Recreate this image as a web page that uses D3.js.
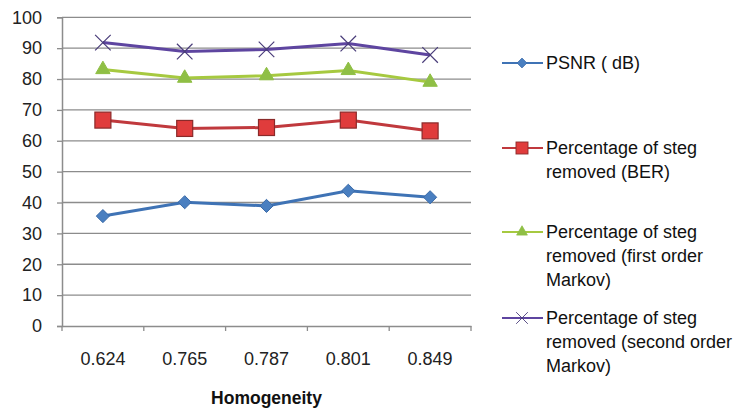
<!DOCTYPE html>
<html><head><meta charset="utf-8">
<script src="https://cdn.jsdelivr.net/npm/d3@7"></script>
<style>body{margin:0;background:#fff}svg{display:block}</style>
</head><body><svg id="c" width="740" height="411"></svg>
<script>
const categories = ["0.624","0.765","0.787","0.801","0.849"];
const psnr = [35.6, 40.1, 38.9, 43.8, 41.7];
const ber = [66.7, 64.0, 64.3, 66.7, 63.2];
const firstOrder = [83.1, 80.3, 81.1, 82.8, 79.0];
const secondOrder = [91.8, 88.9, 89.6, 91.5, 87.8];
const yTicks = [0,10,20,30,40,50,60,70,80,90,100];
const seriesNames = [["PSNR ( dB)"],["Percentage of steg","removed (BER)"],["Percentage of steg","removed (first order","Markov)"],["Percentage of steg","removed (second order","Markov)"]];
const xTitle = "Homogeneity";

const series = [
  {name: seriesNames[0], values: psnr, line:"#3f73b5", fill:"#4a7fc0", stroke:"#3a6aa8", shape:"diamond"},
  {name: seriesNames[1], values: ber, line:"#c0393d", fill:"#e03c3c", stroke:"#8a2a2a", shape:"square"},
  {name: seriesNames[2], values: firstOrder, line:"#a6c940", fill:"#8fbf45", stroke:"#8fbf45", shape:"triangle"},
  {name: seriesNames[3], values: secondOrder, line:"#5e45a0", fill:"none", stroke:"#4a3d7a", shape:"x"}
];

const svg = d3.select("#c");
const font = "'Liberation Sans', Arial, sans-serif";
const L = 62, R = 471, T = 17.3, B = 326;
const x = d3.scaleBand().domain(categories).range([L, R]);
const y = d3.scaleLinear().domain([0,100]).range([B, T]);

// gridlines
svg.append("g").selectAll("line").data(yTicks.filter(d=>d>0)).join("line")
  .attr("x1", L).attr("x2", R).attr("y1", d=>y(d)).attr("y2", d=>y(d))
  .attr("stroke", "#8c8c8c").attr("stroke-width", 1.3);

// y axis
const ya = svg.append("g").attr("transform", `translate(${L},0)`)
  .call(d3.axisLeft(y).tickValues(yTicks).tickSize(5).tickPadding(15));
ya.select(".domain").attr("stroke","#8c8c8c").attr("stroke-width",1.5);
ya.selectAll(".tick line").attr("stroke","#8c8c8c").attr("stroke-width",1.3);
ya.selectAll("text").attr("font-family", font).attr("font-size", 18).attr("fill","#222");

// x axis
const xa = svg.append("g").attr("transform", `translate(0,${B})`)
  .call(d3.axisBottom(x).tickSize(0).tickPadding(26));
xa.select(".domain").attr("stroke","#8c8c8c").attr("stroke-width",1.5);
xa.selectAll("text").attr("font-family", font).attr("font-size", 18).attr("fill","#222");
// boundary ticks
const bounds = categories.map(c=>x(c)).concat([R]);
xa.selectAll(".btick").data(bounds).join("line").attr("class","btick")
  .attr("x1", d=>d).attr("x2", d=>d).attr("y1", 0).attr("y2", 5)
  .attr("stroke","#8c8c8c").attr("stroke-width",1.3);

svg.append("text").attr("x", (L+R)/2).attr("y", 404).attr("text-anchor","middle")
  .attr("font-family", font).attr("font-size", 17.5).attr("font-weight","bold").attr("fill","#111")
  .text(xTitle);

function marker(g, shape, s, fill, stroke) {
  if (shape === "diamond") g.append("path").attr("d", d3.symbol(d3.symbolDiamond2, 110)()).attr("fill", fill).attr("stroke", stroke);
  else if (shape === "square") g.append("rect").attr("x",-8).attr("y",-8).attr("width",16).attr("height",16).attr("fill",fill).attr("stroke",stroke).attr("stroke-width",1.2);
  else if (shape === "triangle") g.append("path").attr("d", d3.symbol(d3.symbolTriangle, 90)()).attr("fill", fill).attr("stroke", stroke);
  else if (shape === "x") g.append("path").attr("d", d3.symbol(d3.symbolX, 160)()).attr("fill","none").attr("stroke", stroke).attr("stroke-width",1.2);
}

const line = d3.line().x((d,i)=>x(categories[i]) + x.bandwidth()/2).y(d=>y(d));
series.forEach(s => {
  svg.append("path").attr("d", line(s.values)).attr("fill","none").attr("stroke", s.line).attr("stroke-width", 3);
  s.values.forEach((v,i) => {
    const g = svg.append("g").attr("transform", `translate(${x(categories[i]) + x.bandwidth()/2},${y(v)})`);
    marker(g, s.shape, 1, s.fill, s.stroke);
  });
});

// legend
const legendY = [63, 148, 232, 318];
series.forEach((s, k) => {
  const g = svg.append("g").attr("transform", `translate(0,${legendY[k]})`);
  g.append("line").attr("x1", 502).attr("x2", 543).attr("y1", 0).attr("y2", 0).attr("stroke", s.line).attr("stroke-width", 2);
  const m = g.append("g").attr("transform", "translate(522,0) scale(0.75)");
  marker(m, s.shape, 1, s.fill, s.stroke);
  s.name.forEach((t, j) => {
    g.append("text").attr("x", 546).attr("y", j*24).attr("dy","0.36em")
      .attr("font-family", font).attr("font-size", 18).attr("fill","#111").text(t);
  });
});
</script></body></html>
